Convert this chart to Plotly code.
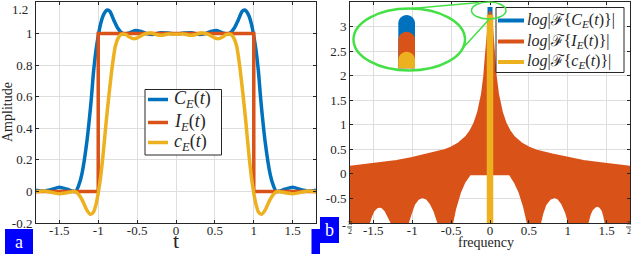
import plotly.graph_objects as go

# ---------------- data: panel a (time domain) ----------------
t_C = [-1.8, -1.7, -1.6, -1.5, -1.4, -1.33, -1.29, -1.25, -1.21, -1.15, -1.09, -1.06, -1.03, -1.0,
       -0.97, -0.94, -0.9, -0.88, -0.85, -0.8, -0.75, -0.7, -0.65, -0.6, -0.52, -0.45, -0.38, -0.3,
       -0.2, -0.1, 0.0,
       0.1, 0.2, 0.3, 0.38, 0.45, 0.52, 0.6, 0.65, 0.7, 0.75, 0.8, 0.85, 0.88, 0.9, 0.94, 0.97,
       1.0, 1.03, 1.06, 1.09, 1.15, 1.21, 1.25, 1.29, 1.33, 1.4, 1.5, 1.6, 1.7, 1.8]
C_E = [0.008, 0.002, 0.012, 0.027, 0.014, 0.002, 0.0, 0.04, 0.11, 0.30, 0.58, 0.76, 0.89, 0.985,
       1.06, 1.11, 1.145, 1.15, 1.14, 1.085, 1.035, 1.005, 0.997, 1.005, 1.02, 1.013, 1.0, 0.994,
       1.005, 1.003, 0.997,
       1.003, 1.005, 0.994, 1.0, 1.013, 1.02, 1.005, 0.997, 1.005, 1.035, 1.085, 1.14, 1.15, 1.145, 1.11, 1.06,
       0.985, 0.89, 0.76, 0.58, 0.30, 0.11, 0.04, 0.0, 0.002, 0.014, 0.027, 0.012, 0.002, 0.008]

t_I = [-1.8, -1.0, -1.0, 1.0, 1.0, 1.8]
I_E = [0.0, 0.0, 1.0, 1.0, 0.0, 0.0]

t_c = [-1.8, -1.7, -1.6, -1.5, -1.4, -1.3, -1.25, -1.2, -1.15, -1.1, -1.06, -1.03, -1.0, -0.97,
       -0.94, -0.9, -0.86, -0.82, -0.78, -0.74, -0.7, -0.65, -0.6, -0.55, -0.5, -0.45, -0.4, -0.32,
       -0.25, -0.17, -0.1, 0.0,
       0.1, 0.17, 0.25, 0.32, 0.4, 0.45, 0.5, 0.55, 0.6, 0.65, 0.7, 0.74, 0.78, 0.82, 0.86, 0.9, 0.94,
       0.97, 1.0, 1.03, 1.06, 1.1, 1.15, 1.2, 1.25, 1.3, 1.4, 1.5, 1.6, 1.7, 1.8]
c_E = [-0.003, 0.002, -0.006, -0.015, -0.008, 0.0, -0.02, -0.06, -0.115, -0.145, -0.13, -0.085, -0.01, 0.09,
       0.22, 0.43, 0.62, 0.79, 0.92, 0.975, 0.996, 0.995, 0.978, 0.968, 0.972, 0.985, 0.998, 1.003,
       0.993, 0.99, 0.998, 0.995,
       0.998, 0.99, 0.993, 1.003, 0.998, 0.985, 0.972, 0.968, 0.978, 0.995, 0.996, 0.975, 0.92, 0.79, 0.62, 0.43, 0.22,
       0.09, -0.01, -0.085, -0.13, -0.145, -0.115, -0.06, -0.02, 0.0, -0.008, -0.015, -0.006, 0.002, -0.003]

# ---------------- data: panel b (log spectrum) ----------------
# envelope of the densely oscillating log|F{I_E(t)}|
f_up = [-1.8, -1.6, -1.4, -1.2, -1.0, -0.8, -0.6, -0.5, -0.4, -0.3, -0.25, -0.2, -0.15, -0.1, -0.07,
        -0.05, -0.03, -0.015, 0.0, 0.015, 0.03, 0.05, 0.07, 0.1, 0.15, 0.2, 0.25, 0.3, 0.4, 0.5, 0.6,
        0.8, 1.0, 1.2, 1.4, 1.6, 1.8]
logI_up = [0.14, 0.18, 0.22, 0.26, 0.32, 0.39, 0.47, 0.53, 0.62, 0.76, 0.87, 1.02, 1.25, 1.62, 2.0,
           2.4, 2.85, 3.15, 3.31, 3.15, 2.85, 2.4, 2.0, 1.62, 1.25, 1.02, 0.87, 0.76, 0.62, 0.53, 0.47,
           0.39, 0.32, 0.26, 0.22, 0.18, 0.14]
f_low = [-1.8, -1.56, -1.53, -1.5, -1.46, -1.42, -1.38, -1.34, -1.3, -1.26,
         -1.06, -1.02, -0.98, -0.93, -0.87, -0.81, -0.76, -0.71, -0.66,
         -0.49, -0.45, -0.39, -0.33, -0.26, 0.255, 0.32, 0.38, 0.44, 0.49,
         0.64, 0.67, 0.71, 0.77, 0.83, 0.88, 0.93, 0.98, 1.02,
         1.25, 1.28, 1.31, 1.35, 1.38, 1.42, 1.45, 1.47, 1.49, 1.8]
logI_low = [-1.0, -1.0, -0.85, -0.75, -0.68, -0.66, -0.68, -0.75, -0.86, -1.0,
            -1.0, -0.8, -0.62, -0.51, -0.46, -0.5, -0.6, -0.76, -1.0,
            -1.0, -0.7, -0.38, -0.16, 0.0, 0.0, -0.16, -0.36, -0.66, -1.0,
            -1.0, -0.8, -0.62, -0.5, -0.46, -0.5, -0.6, -0.78, -1.0,
            -1.0, -0.82, -0.72, -0.66, -0.64, -0.67, -0.74, -0.84, -1.0, -1.0]
f_C = [0.0, 0.0]
logC = [-1.0, 3.40]
f_c = [0.0, 0.0]
logc = [-1.0, 3.24]

x_ticks_a = [-1.5, -1.0, -0.5, 0.0, 0.5, 1.0, 1.5]
x_text_a = ["-1.5", "-1", "-0.5", "0", "0.5", "1", "1.5"]
y_ticks_a = [-0.2, 0.0, 0.2, 0.4, 0.6, 0.8, 1.0, 1.2]
y_text_a = ["-0.2", "0", "0.2", "0.4", "0.6", "0.8", "1", ""]
y_ticks_b = [-0.5, 0.0, 0.5, 1.0, 1.5, 2.0, 2.5, 3.0]
y_text_b = ["-0.5", "0", "0.5", "1", "1.5", "2", "2.5", "3"]

# ---------------- styling ----------------
BLUE, RED, YEL = "#0072BD", "#D95319", "#EDB120"
GREEN = "#45E045"
AX = "#262626"
GRID = "#DEDEDE"
FONT = "Liberation Serif, Times New Roman, serif"
W, H = 632, 254
ML, MR, MT, MB = 36, 2, 2, 31
PW, PH = W - ML - MR, H - MT - MB


def px(x):
    return (x - ML) / PW


def py(y):
    return 1 - (y - MT) / PH


fig = go.Figure()
fig.add_trace(go.Scatter(x=t_C, y=C_E, mode="lines", line=dict(color=BLUE, width=3.5, shape="spline", smoothing=0.7),
                         xaxis="x", yaxis="y", showlegend=False, name="C_E(t)"))
fig.add_trace(go.Scatter(x=t_I, y=I_E, mode="lines", line=dict(color=RED, width=3.5),
                         xaxis="x", yaxis="y", showlegend=False, name="I_E(t)"))
fig.add_trace(go.Scatter(x=t_c, y=c_E, mode="lines", line=dict(color=YEL, width=3.5, shape="spline", smoothing=0.7),
                         xaxis="x", yaxis="y", showlegend=False, name="c_E(t)"))

fig.add_trace(go.Scatter(x=f_C, y=logC, mode="lines", line=dict(color=BLUE, width=5),
                         xaxis="x2", yaxis="y2", showlegend=False))
fig.add_trace(go.Scatter(x=f_up + f_low[::-1], y=logI_up + logI_low[::-1], mode="lines", fill="toself",
                         fillcolor=RED, line=dict(color=RED, width=2.5),
                         xaxis="x2", yaxis="y2", showlegend=False))
fig.add_trace(go.Scatter(x=f_c, y=logc, mode="lines", line=dict(color=YEL, width=6.5),
                         xaxis="x2", yaxis="y2", showlegend=False))

axcommon = dict(showline=True, linecolor=AX, linewidth=1, mirror="ticks", ticks="inside", ticklen=3,
                tickcolor=AX, showgrid=True, gridcolor=GRID, gridwidth=1, zeroline=False, automargin=False,
                tickfont=dict(family=FONT, size=13, color=AX))

fig.update_layout(
    width=W, height=H, margin=dict(l=ML, r=MR, t=MT, b=MB, autoexpand=False),
    paper_bgcolor="white", plot_bgcolor="white", showlegend=False,
    xaxis=dict(domain=[0, 280 / PW], range=[-1.8, 1.8], tickvals=x_ticks_a, ticktext=x_text_a,
               anchor="y", ticklabelstandoff=-5, **axcommon),
    yaxis=dict(domain=[0, 1], range=[-0.2, 1.2], tickvals=y_ticks_a, ticktext=y_text_a,
               anchor="x", **axcommon),
    xaxis2=dict(domain=[314 / PW, 1], range=[-1.8, 1.8], tickvals=x_ticks_a, ticktext=x_text_a,
                anchor="y2", ticklabelstandoff=-5, **axcommon),
    yaxis2=dict(domain=[0, 1], range=[-0.999, 3.5], tickvals=y_ticks_b, ticktext=y_text_b,
                anchor="x2", **axcommon),
)

shapes = []
ann = []


def line_px(x0, y0, x1, y1, color, width):
    shapes.append(dict(type="line", xref="paper", yref="paper", x0=px(x0), y0=py(y0), x1=px(x1), y1=py(y1),
                       line=dict(color=color, width=width)))


def text_px(x, y, s, size, color=AX, xanchor="center", textangle=0, family=FONT):
    ann.append(dict(x=px(x), y=py(y), xref="paper", yref="paper", text=s, showarrow=False,
                    xanchor=xanchor, yanchor="middle", textangle=textangle,
                    font=dict(family=family, size=size, color=color)))


# legend panel a
shapes.append(dict(type="rect", xref="paper", yref="paper", x0=px(145), x1=px(221.5), y0=py(89.5), y1=py(155),
                   line=dict(color=AX, width=1), fillcolor="white"))
leg_a = [(BLUE, "<i>C</i><sub><i>E</i></sub>(<i>t</i>)", 99.5),
         (RED, "<i>I</i><sub><i>E</i></sub>(<i>t</i>)", 122.5),
         (YEL, "<i>c</i><sub><i>E</i></sub>(<i>t</i>)", 142.5)]
for c, s, y in leg_a:
    line_px(148, y, 168, y, c, 3.5)
    text_px(172, y, s, 18, xanchor="left")

# legend panel b
shapes.append(dict(type="rect", xref="paper", yref="paper", x0=px(496), x1=px(624), y0=py(7.5), y1=py(72.5),
                   line=dict(color=AX, width=1), fillcolor="white"))
leg_b = [(BLUE, "<i>log</i>|ℱ{<i>C</i><sub><i>E</i></sub>(<i>t</i>)}|", 20.5),
         (RED, "<i>log</i>|ℱ{<i>I</i><sub><i>E</i></sub>(<i>t</i>)}|", 41.5),
         (YEL, "<i>log</i>|ℱ{<i>c</i><sub><i>E</i></sub>(<i>t</i>)}|", 62.0)]
for c, s, y in leg_b:
    line_px(498, y, 524, y, c, 4)
    text_px(525, y, s, 16, xanchor="left")

# zoom inset decoration
shapes.append(dict(type="circle", xref="paper", yref="paper", x0=px(353.5), x1=px(465), y0=py(8.5), y1=py(70.5),
                   line=dict(color=GREEN, width=2.5)))
shapes.append(dict(type="circle", xref="paper", yref="paper", x0=px(471.5), x1=px(506), y0=py(2), y1=py(19),
                   line=dict(color=GREEN, width=1.5)))
line_px(412, 8.5, 479, 2.5, GREEN, 1.5)
line_px(462, 49, 489, 19.5, GREEN, 1.5)


def capped_bar(x0, x1, ytop, ybot, color):
    r = (x1 - x0) / 2
    xc = (x0 + x1) / 2
    k = 0.5523 * r
    pts = [("M", [(x0, ybot)]), ("L", [(x0, ytop + r)]),
           ("C", [(x0, ytop + r - k), (xc - k, ytop), (xc, ytop)]),
           ("C", [(xc + k, ytop), (x1, ytop + r - k), (x1, ytop + r)]),
           ("L", [(x1, ybot)])]
    path = ""
    for cmd, ps in pts:
        path += cmd + " ".join("%.5f,%.5f" % (px(a), py(b)) for a, b in ps) + " "
    path += "Z"
    shapes.append(dict(type="path", xref="paper", yref="paper", path=path, fillcolor=color,
                       line=dict(width=0)))


capped_bar(398.3, 415, 15, 68.3, BLUE)
capped_bar(398.3, 415, 31.7, 68.3, RED)
capped_bar(398.3, 415, 51.7, 68.3, YEL)

# top tick label of panel a (kept inside the picture as in the reference)
text_px(20, 10, "1.2", 13, xanchor="center")

# axis titles
text_px(7, 112, "Amplitude", 14, textangle=-90)
text_px(176, 241, "t", 22)
text_px(485.5, 243, "frequency", 14)

# pi/2 edge labels on panel b
text_px(344, 226, "-", 12)
text_px(349.5, 222.8, "π", 8)
text_px(349.5, 231, "2", 8)
line_px(347, 227, 352, 227, AX, 0.8)
text_px(628.5, 222.8, "π", 8)
text_px(628.5, 231, "2", 8)
line_px(626, 227, 631, 227, AX, 0.8)

# panel letters
shapes.append(dict(type="rect", xref="paper", yref="paper", x0=px(5), x1=px(33), y0=py(229), y1=py(254),
                   fillcolor="#0000FF", line=dict(width=0)))
shapes.append(dict(type="rect", xref="paper", yref="paper", x0=px(311.5), x1=px(320), y0=py(229), y1=py(254),
                   fillcolor="#0000FF", line=dict(width=0)))
shapes.append(dict(type="rect", xref="paper", yref="paper", x0=px(320), x1=px(339), y0=py(217), y1=py(243),
                   fillcolor="#0000FF", line=dict(width=0)))
text_px(19, 242, "a", 18, color="white")
text_px(329.5, 230, "b", 18, color="white")

fig.update_layout(shapes=shapes, annotations=ann)
fig.write_html("out.html", config={"displayModeBar": False},
               post_script="document.body.style.margin='0';document.body.style.padding='0';")
